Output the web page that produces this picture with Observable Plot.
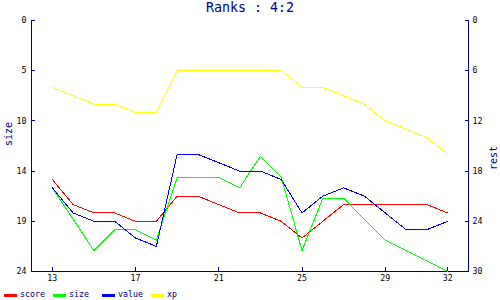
<!DOCTYPE html>
<html><head><meta charset="utf-8">
<script src="https://cdn.jsdelivr.net/npm/d3@7"></script>
<script src="https://cdn.jsdelivr.net/npm/@observablehq/plot@0.6"></script>
<style>
body{margin:0;background:#fff;width:500px;height:300px;overflow:hidden;font-family:"DejaVu Sans Mono",monospace}
#title{height:16px;line-height:16px;text-align:center;color:#000080;font-size:13.3px;white-space:pre}
#chart svg{display:block}
#chart svg path, #chart svg line{shape-rendering:crispEdges}
#legend{position:relative;height:12px}
.item{position:absolute;top:0;height:12px;font-size:8.3px;color:#000080;line-height:13px;white-space:pre}
.sw{position:absolute;left:0;top:6px;width:13px;height:3px}
.lbl{position:absolute;left:16px;top:0}
</style></head><body>
<div id="title"></div><div id="chart"></div><div id="legend"></div>
<script>
const chartTitle = "Ranks : 4:2";
const rounds = [13,14,15,16,17,18,19,20,21,22,23,24,25,26,27,28,29,30,31,32];
const score  = [19,22,23,23,24,24,21,21,22,23,23,24,26,24,22,22,22,22,22,23];
const size   = [16,19,22,20,20,21,15,15,15,16,13,15,22,17,17,19,21,22,23,24];
const value  = [20,23,24,24,26,27,16,16,17,18,18,19,23,21,20,21,23,25,25,24];
const xp     = [8,9,10,10,11,11,6,6,6,6,6,6,8,8,9,10,12,13,14,16];
const seriesNames  = ["score","size","value","xp"];
const seriesColors = ["#ff0000","#00ff00","#0000ff","#ffff00"];
const seriesAxis   = ["right","left","right","right"];
const xTickValues = [13,17,21,25,29,32];
const leftTickLabels  = [0,5,10,14,19,24];
const rightTickLabels = [0,6,12,18,24,30];
const leftTitle = "size", rightTitle = "rest";

const navy = "#000080";
const leftMax = 24, rightMax = 30;
const allValues = [score,size,value,xp];
const rows = [];
seriesNames.forEach((name, s) => {
  allValues[s].forEach((v, i) => {
    rows.push({round: rounds[i], name, v: seriesAxis[s] === "left" ? v : v * leftMax / rightMax});
  });
});
const tickPos = leftTickLabels.map((_, i) => i * leftMax / (leftTickLabels.length - 1));
const idx = d => Math.round(d / (leftMax / (leftTickLabels.length - 1)));

document.getElementById("title").textContent = chartTitle;

const chart = Plot.plot({
  width: 500, height: 272,
  marginTop: 4, marginBottom: 17, marginLeft: 31, marginRight: 32,
  x: {domain: [12, 33]},
  y: {domain: [0, leftMax], reverse: true},
  color: {domain: seriesNames, range: seriesColors},
  style: {fontFamily: "DejaVu Sans Mono", fontSize: "8.3px", background: "white", color: "black"},
  marks: [
    Plot.ruleX([12, 33], {stroke: navy}),
    Plot.ruleY([leftMax], {stroke: navy}),
    Plot.axisX(xTickValues, {tickSize: 0, tickPadding: 4, fill: "black", label: null}),
    Plot.axisX(xTickValues, {tickSize: 4, dy: -4, fill: "none", stroke: navy, label: null}),
    Plot.axisY(tickPos, {anchor: "left", tickSize: 0, tickPadding: 5, fill: "black", label: null, tickFormat: d => leftTickLabels[idx(d)]}),
    Plot.axisY(tickPos, {anchor: "left", tickSize: 4, dx: 4, fill: "none", stroke: navy, label: null}),
    Plot.axisY(tickPos, {anchor: "right", tickSize: 0, tickPadding: 4, fill: "black", label: null, tickFormat: d => rightTickLabels[idx(d)]}),
    Plot.axisY(tickPos, {anchor: "right", tickSize: 4, dx: -4, fill: "none", stroke: navy, label: null}),
    Plot.line(rows, {x: "round", y: "v", z: "name", stroke: "name", strokeWidth: 1}),
    Plot.text([leftTitle], {frameAnchor: "left", dx: -23, rotate: -90, fill: navy, fontSize: 10}),
    Plot.text([rightTitle], {frameAnchor: "right", dx: 25, rotate: -90, fill: navy, fontSize: 10})
  ]
});
document.getElementById("chart").appendChild(chart);

const legend = document.getElementById("legend");
seriesNames.forEach((name, i) => {
  const item = document.createElement("div");
  item.className = "item";
  item.style.left = (4 + i * 49) + "px";
  const sw = document.createElement("div");
  sw.className = "sw";
  sw.style.background = seriesColors[i];
  const lbl = document.createElement("span");
  lbl.className = "lbl";
  lbl.textContent = name;
  item.appendChild(sw); item.appendChild(lbl);
  legend.appendChild(item);
});
</script>
</body></html>
